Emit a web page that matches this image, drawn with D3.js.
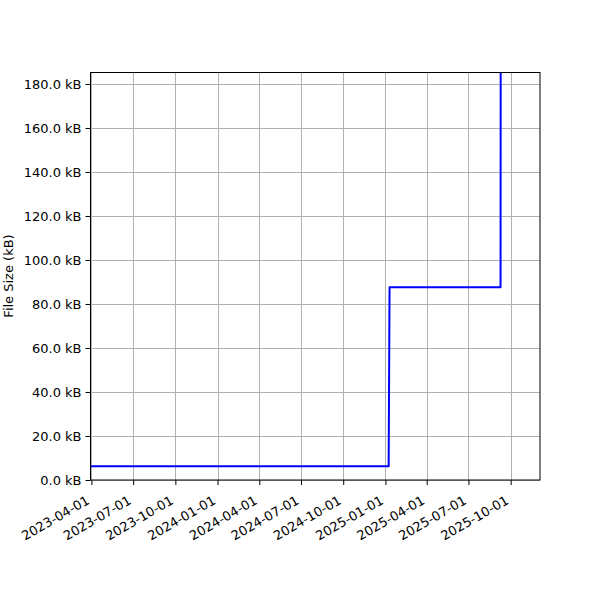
<!DOCTYPE html>
<html><head><meta charset="utf-8">
<script src="https://cdn.jsdelivr.net/npm/d3@7"></script>
<style>body{margin:0;background:#fff}svg text{font-family:"DejaVu Sans",sans-serif}</style>
</head><body><div id="c"></div>
<script>
const dates = ["2023-03-30","2025-01-08","2025-01-10","2025-09-09","2025-09-09T12:00"];
const sizes = [6.2, 6.2, 87.6, 87.6, 260];
const xTickLabels = ["2023-04-01","2023-07-01","2023-10-01","2024-01-01","2024-04-01","2024-07-01","2024-10-01","2025-01-01","2025-04-01","2025-07-01","2025-10-01"];
const yTicks = [0,20,40,60,80,100,120,140,160,180];
const xDomain = ["2023-03-30","2025-12-04"];
const yDomain = [0, 185.45];

const W=600,H=600, L=90.5, R=540, T=72, B=480;
const parse = s => new Date(s.length>10 ? s+"Z" : s+"T00:00:00Z");
const x = d3.scaleUtc().domain(xDomain.map(parse)).range([L,R]);
const y = d3.scaleLinear().domain(yDomain).range([B,T]);

const svg = d3.select("#c").append("svg").attr("width",W).attr("height",H);
svg.append("rect").attr("width",W).attr("height",H).attr("fill","#fff");

// grid
const g = svg.append("g");
g.selectAll(".vx").data(xTickLabels).join("line")
 .attr("x1",d=>Math.round(x(parse(d)))+0.5).attr("x2",d=>Math.round(x(parse(d)))+0.5)
 .attr("y1",T).attr("y2",B).attr("stroke","#b0b0b0").attr("stroke-width",1);
g.selectAll(".hy").data(yTicks).join("line")
 .attr("y1",d=>Math.round(y(d))+0.5).attr("y2",d=>Math.round(y(d))+0.5)
 .attr("x1",L).attr("x2",R).attr("stroke","#b0b0b0").attr("stroke-width",1);

// line
svg.append("clipPath").attr("id","clip").append("rect").attr("x",L).attr("y",T).attr("width",R-L).attr("height",B-T);
const pts = dates.map((d,i)=>[parse(d), sizes[i]]);
svg.append("path").attr("clip-path","url(#clip)")
 .attr("d", d3.line().x(d=>x(d[0])).y(d=>y(d[1]))(pts))
 .attr("fill","none").attr("stroke","#0000ff").attr("stroke-width",2).attr("stroke-linejoin","round");

// axes
const xa = svg.append("g").attr("transform",`translate(0,${B})`)
 .call(d3.axisBottom(x).tickValues(xTickLabels.map(parse)).tickSize(5).tickPadding(4).tickFormat(d3.utcFormat("%Y-%m-%d")));
xa.select(".domain").remove();
xa.selectAll("line").attr("stroke","#000");
xa.selectAll("text").attr("font-size",13).attr("fill","#000")
 .attr("text-anchor","end").attr("dy",0).attr("dx",0)
 .attr("transform","translate(-1.5,23) rotate(-30)").attr("y",0).attr("x",0);

const ya = svg.append("g").attr("transform",`translate(${L},0)`)
 .call(d3.axisLeft(y).tickValues(yTicks).tickSize(5).tickPadding(4).tickFormat(d=>d3.format(".1f")(d)+" kB"));
ya.select(".domain").remove();
ya.selectAll("line").attr("stroke","#000");
ya.selectAll("text").attr("font-size",13).attr("fill","#000");

svg.append("rect").attr("x",L).attr("y",T+0.5).attr("width",R-L).attr("height",B-T-0.5)
 .attr("fill","none").attr("stroke","#000").attr("stroke-width",1);

svg.append("text").attr("transform",`translate(13,${(T+B)/2}) rotate(-90)`)
 .attr("text-anchor","middle").attr("font-size",13).text("File Size (kB)");
</script></body></html>
